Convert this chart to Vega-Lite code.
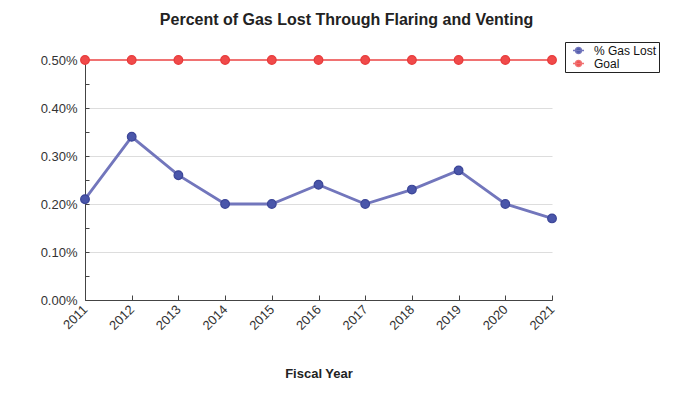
{
  "$schema": "https://vega.github.io/schema/vega-lite/v6.json",
  "autosize": "none",
  "width": 467,
  "height": 240,
  "padding": {"left": 85, "top": 60, "right": 127, "bottom": 100},
  "background": "white",
  "config": {
    "font": "Liberation Sans",
    "view": {"stroke": null}
  },
  "title": {
    "text": "Percent of Gas Lost Through Flaring and Venting",
    "fontSize": 16,
    "fontWeight": "bold",
    "color": "#222222",
    "anchor": "middle",
    "frame": "group",
    "dx": 28,
    "offset": 14
  },
  "data": {
    "values": [
      {"year": "2011", "series": "% Gas Lost", "value": 0.21},
      {"year": "2012", "series": "% Gas Lost", "value": 0.34},
      {"year": "2013", "series": "% Gas Lost", "value": 0.26},
      {"year": "2014", "series": "% Gas Lost", "value": 0.20},
      {"year": "2015", "series": "% Gas Lost", "value": 0.20},
      {"year": "2016", "series": "% Gas Lost", "value": 0.24},
      {"year": "2017", "series": "% Gas Lost", "value": 0.20},
      {"year": "2018", "series": "% Gas Lost", "value": 0.23},
      {"year": "2019", "series": "% Gas Lost", "value": 0.27},
      {"year": "2020", "series": "% Gas Lost", "value": 0.20},
      {"year": "2021", "series": "% Gas Lost", "value": 0.17},
      {"year": "2011", "series": "Goal", "value": 0.5},
      {"year": "2012", "series": "Goal", "value": 0.5},
      {"year": "2013", "series": "Goal", "value": 0.5},
      {"year": "2014", "series": "Goal", "value": 0.5},
      {"year": "2015", "series": "Goal", "value": 0.5},
      {"year": "2016", "series": "Goal", "value": 0.5},
      {"year": "2017", "series": "Goal", "value": 0.5},
      {"year": "2018", "series": "Goal", "value": 0.5},
      {"year": "2019", "series": "Goal", "value": 0.5},
      {"year": "2020", "series": "Goal", "value": 0.5},
      {"year": "2021", "series": "Goal", "value": 0.5}
    ]
  },
  "encoding": {
    "x": {
      "field": "year",
      "type": "ordinal",
      "scale": {"type": "point", "padding": 0},
      "axis": {
        "title": "Fiscal Year",
        "titleFontSize": 13,
        "titleFontWeight": "bold",
        "titleColor": "#222222",
        "titlePadding": 35,
        "labelAngle": -45,
        "labelAlign": "right",
        "labelBaseline": "middle",
        "labelFontSize": 13,
        "labelColor": "#333333",
        "labelPadding": 12,
        "tickSize": -5,
        "tickColor": "#444444",
        "domainColor": "#444444",
        "grid": false
      }
    },
    "y": {
      "field": "value",
      "type": "quantitative",
      "scale": {"domain": [0, 0.5], "nice": false},
      "axis": {
        "title": null,
        "values": [0, 0.05, 0.1, 0.15, 0.2, 0.25, 0.3, 0.35, 0.4, 0.45, 0.5],
        "labelExpr": "round(datum.value*100) % 10 == 0 ? format(datum.value, '.2f') + '%' : ''",
        "labelFontSize": 13,
        "labelColor": "#333333",
        "labelPadding": 12,
        "tickSize": -4,
        "tickColor": "#444444",
        "domainColor": "#444444",
        "grid": true,
        "gridColor": "#dddddd",
        "gridOpacity": {"condition": {"test": "round(datum.value*100) % 10 != 0", "value": 0}, "value": 1}
      }
    }
  },
  "layer": [
    {
      "transform": [{"filter": "datum.series == '% Gas Lost'"}],
      "mark": {"type": "line", "strokeWidth": 2.8},
      "encoding": {
        "color": {
          "field": "series",
          "type": "nominal",
          "scale": {"domain": ["% Gas Lost", "Goal"], "range": ["#7276bc", "#f07272"]},
          "legend": {
            "title": null,
            "orient": "none",
            "legendX": 480,
            "legendY": -18,
            "strokeColor": "#222222",
            "padding": 2,
            "labelFontSize": 12,
            "labelColor": "#111111",
            "rowPadding": -1,
            "symbolType": "M-1,0L1,0M-0.55,0A0.55,0.55 0 1,0 0.55,0A0.55,0.55 0 1,0 -0.55,0Z",
            "symbolSize": 121,
            "symbolStrokeWidth": 1.5,
            "symbolOffset": 5,
            "labelOffset": 9,
            "encode": {"symbols": {"update": {"fill": {"scale": "color", "field": "value"}}}}
          }
        }
      }
    },
    {
      "transform": [{"filter": "datum.series == 'Goal'"}],
      "mark": {"type": "line", "strokeWidth": 1.8},
      "encoding": {
        "color": {"field": "series", "type": "nominal"}
      }
    },
    {
      "mark": {"type": "point", "filled": true, "size": 75, "strokeWidth": 1.2, "opacity": 1},
      "encoding": {
        "fill": {
          "field": "series",
          "type": "nominal",
          "scale": {"domain": ["% Gas Lost", "Goal"], "range": ["#4a56aa", "#f04a4a"]},
          "legend": null
        },
        "stroke": {
          "field": "series",
          "type": "nominal",
          "scale": {"domain": ["% Gas Lost", "Goal"], "range": ["#3c4698", "#e83a3a"]},
          "legend": null
        }
      }
    }
  ]
}
